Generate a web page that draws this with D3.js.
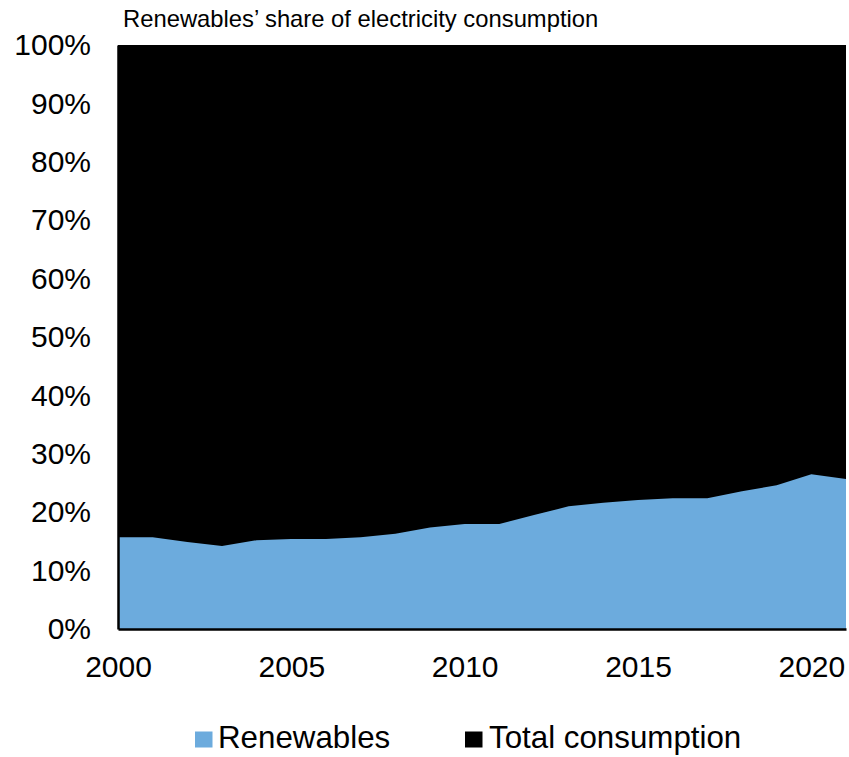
<!DOCTYPE html>
<html>
<head>
<meta charset="utf-8">
<script src="https://cdn.jsdelivr.net/npm/d3@7"></script>
<style>
  html, body { margin: 0; padding: 0; background: #fff; }
  svg { display: block; font-family: "Liberation Sans", Arial, sans-serif; }
</style>
</head>
<body>
<svg id="chart" width="849" height="757"></svg>
<script>
const years = [2000,2001,2002,2003,2004,2005,2006,2007,2008,2009,2010,2011,2012,2013,2014,2015,2016,2017,2018,2019,2020,2021];
const renewables = [15.7,15.7,14.9,14.2,15.2,15.4,15.4,15.7,16.3,17.4,18.0,18.0,19.5,21.0,21.6,22.1,22.4,22.4,23.6,24.6,26.5,25.7];
const totalConsumption = [100,100,100,100,100,100,100,100,100,100,100,100,100,100,100,100,100,100,100,100,100,100];
const yTicks = [0,10,20,30,40,50,60,70,80,90,100];
const xTicks = [2000,2005,2010,2015,2020];
const seriesNames = ["Renewables", "Total consumption"];
const seriesColors = ["#6CABDD", "#000000"];
const title = "Renewables\u2019 share of electricity consumption";

const svg = d3.select("#chart");
const x = d3.scaleLinear().domain([2000, 2021]).range([118, 846]);
const y = d3.scaleLinear().domain([0, 100]).range([629, 45]);

const data = years.map((yr, i) => ({ year: yr, ren: renewables[i], tot: totalConsumption[i] }));

// Total consumption area (black)
svg.append("path")
  .datum(data)
  .attr("fill", seriesColors[1])
  .attr("d", d3.area().x(d => x(d.year)).y0(y(0)).y1(d => y(d.tot)));

// Renewables area (blue)
svg.append("path")
  .datum(data)
  .attr("fill", seriesColors[0])
  .attr("d", d3.area().x(d => x(d.year)).y0(y(0)).y1(d => y(d.ren)));

// Y axis
const yAxis = svg.append("g")
  .attr("transform", `translate(${x(2000)},0)`)
  .call(d3.axisLeft(y).tickValues(yTicks).tickSize(0).tickPadding(27).tickFormat(d => d + "%"));
yAxis.select(".domain").attr("stroke", "#000").attr("stroke-width", 2.5);
yAxis.selectAll("text").attr("font-size", 30).attr("fill", "#000")
  .attr("font-family", "'Liberation Sans', Arial, sans-serif");

// X axis
const xAxis = svg.append("g")
  .attr("transform", `translate(0,${y(0)})`)
  .call(d3.axisBottom(x).tickValues(xTicks).tickSize(0).tickPadding(27).tickFormat(d3.format("d")));
xAxis.select(".domain").attr("stroke", "#000").attr("stroke-width", 2.5);
xAxis.selectAll("text").attr("font-size", 30).attr("fill", "#000")
  .attr("font-family", "'Liberation Sans', Arial, sans-serif");

// Title
svg.append("text")
  .attr("x", 123).attr("y", 27)
  .attr("font-size", 23.8).attr("fill", "#000")
  .text(title);

// Legend
const legendItems = [
  { name: seriesNames[0], color: seriesColors[0], sx: 195, tx: 218 },
  { name: seriesNames[1], color: seriesColors[1], sx: 465, tx: 489 }
];
const lg = svg.append("g");
legendItems.forEach(it => {
  lg.append("rect").attr("x", it.sx).attr("y", 731.5).attr("width", 17.5).attr("height", 16).attr("fill", it.color);
  lg.append("text").attr("x", it.tx).attr("y", 747.5).attr("font-size", 31.3).attr("fill", "#000").text(it.name);
});
</script>
</body>
</html>
